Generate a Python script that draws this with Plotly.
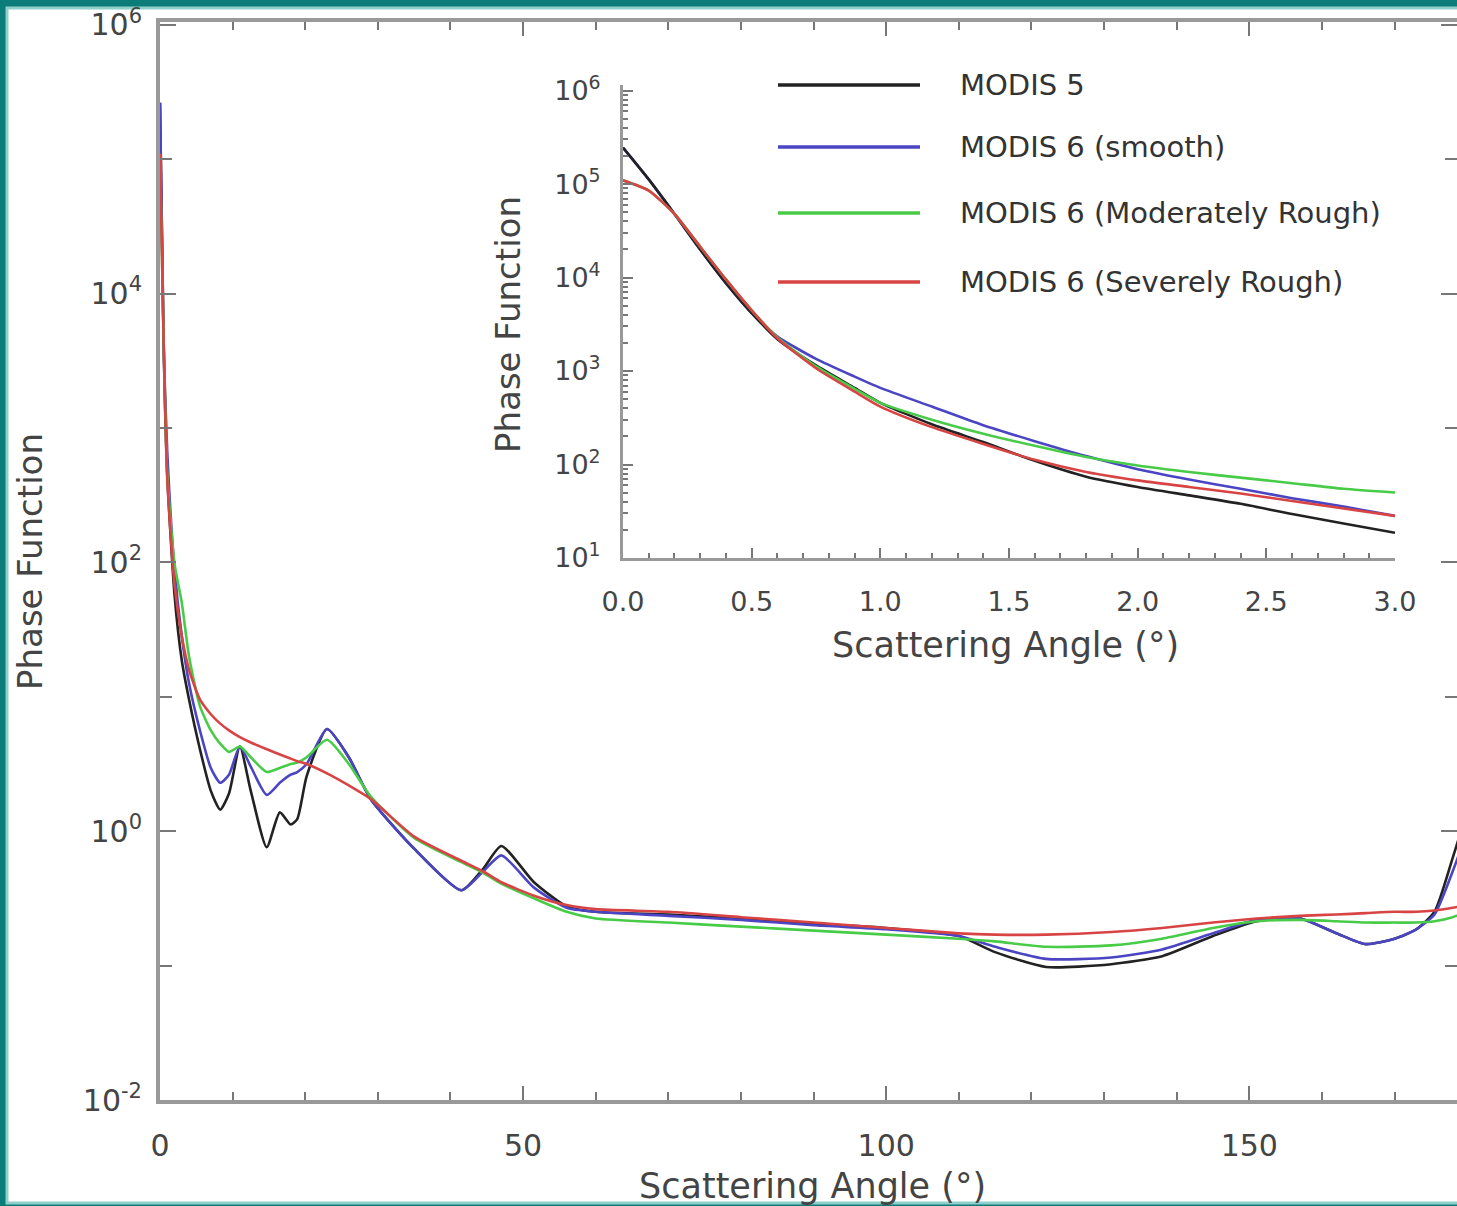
import plotly.graph_objects as go

# ---------------- data (log10 of phase function) ----------------
main_angle = [0, 0.5, 1, 2, 3, 4, 5.5, 7, 8.3, 9.5, 11, 12.5, 14.7, 16.5, 18, 18.9, 20.2, 23, 26, 29,
              35, 41.5, 44.5, 47, 51.5, 56, 60, 70, 80, 90, 100, 110, 115, 122, 131, 138, 145, 151,
              157, 162, 166, 170, 173, 175.5, 178, 180]
main_modis5 = [5.42, 3.62, 2.65, 1.76, 1.27, 0.98, 0.61, 0.30, 0.16, 0.28, 0.63, 0.30, -0.12, 0.14, 0.05, 0.09,
               0.41, 0.76, 0.55, 0.24, -0.13, -0.44, -0.28, -0.11, -0.38, -0.56, -0.60, -0.62, -0.65, -0.69,
               -0.72, -0.78, -0.90, -1.01, -0.99, -0.93, -0.78, -0.67, -0.65, -0.76, -0.84, -0.80, -0.73,
               -0.60, -0.20, 0.15]
main_smooth = [5.42, 3.62, 2.82, 1.95, 1.45, 1.10, 0.75, 0.47, 0.36, 0.42, 0.63, 0.48, 0.27, 0.36, 0.42, 0.44,
               0.50, 0.76, 0.55, 0.24, -0.13, -0.44, -0.30, -0.18, -0.42, -0.57, -0.60, -0.63, -0.66, -0.70,
               -0.73, -0.78, -0.86, -0.95, -0.94, -0.88, -0.76, -0.66, -0.65, -0.76, -0.84, -0.80, -0.73,
               -0.62, -0.30, 0.00]
main_moderate = [5.04, 3.65, 2.66, 1.99, 1.70, 1.30, 0.93, 0.75, 0.65, 0.59, 0.63, 0.55, 0.44, 0.47, 0.50, 0.51,
                 0.55, 0.68, 0.50, 0.26, -0.05, -0.23, -0.31, -0.39, -0.50, -0.60, -0.65, -0.68, -0.71, -0.74,
                 -0.77, -0.80, -0.82, -0.86, -0.85, -0.80, -0.72, -0.67, -0.66, -0.67, -0.68, -0.68, -0.68,
                 -0.67, -0.64, -0.60]
main_severe = [5.04, 3.65, 2.62, 1.83, 1.45, 1.20, 0.98, 0.87, 0.80, 0.75, 0.70, 0.66, 0.61, 0.57, 0.54, 0.52,
               0.50, 0.43, 0.34, 0.24, -0.04, -0.22, -0.30, -0.38, -0.48, -0.55, -0.58, -0.60, -0.64, -0.68,
               -0.72, -0.76, -0.77, -0.77, -0.75, -0.72, -0.68, -0.65, -0.63, -0.62, -0.61, -0.60, -0.60,
               -0.59, -0.57, -0.55]

inset_angle = [0, 0.1, 0.2, 0.3, 0.4, 0.5, 0.6, 0.75, 0.9, 1.0, 1.2, 1.4, 1.6, 1.8, 2.0, 2.2, 2.4, 2.6, 2.8, 3.0]
inset_modis5 = [5.39, 5.05, 4.68, 4.30, 3.94, 3.62, 3.34, 3.06, 2.82, 2.66, 2.43, 2.24, 2.04, 1.87, 1.76, 1.67,
                1.58, 1.47, 1.37, 1.27]
inset_smooth = [5.39, 5.05, 4.68, 4.30, 3.94, 3.62, 3.37, 3.13, 2.94, 2.82, 2.62, 2.42, 2.25, 2.09, 1.95, 1.84,
                1.74, 1.64, 1.55, 1.45]
inset_moderate = [5.04, 4.93, 4.68, 4.33, 3.98, 3.65, 3.36, 3.05, 2.81, 2.66, 2.48, 2.33, 2.20, 2.08, 1.99, 1.92,
                  1.86, 1.80, 1.74, 1.70]
inset_severe = [5.04, 4.93, 4.68, 4.33, 3.98, 3.65, 3.35, 3.03, 2.78, 2.62, 2.40, 2.22, 2.05, 1.92, 1.83, 1.76,
                1.69, 1.61, 1.53, 1.45]

series_names = ["MODIS 5", "MODIS 6 (smooth)", "MODIS 6 (Moderately Rough)", "MODIS 6 (Severely Rough)"]
series_colors = ["#222222", "#4b45c4", "#48cc48", "#d84444"]

main_ticks_x = [0, 50, 100, 150]
main_ticks_y = [1e-2, 1, 1e2, 1e4, 1e6]
main_ticktext_y = ["10<sup>-2</sup>", "10<sup>0</sup>", "10<sup>2</sup>", "10<sup>4</sup>", "10<sup>6</sup>"]
inset_ticks_x = [0, 0.5, 1.0, 1.5, 2.0, 2.5, 3.0]
inset_ticktext_x = ["0.0", "0.5", "1.0", "1.5", "2.0", "2.5", "3.0"]
inset_ticks_y = [1e1, 1e2, 1e3, 1e4, 1e5, 1e6]
inset_ticktext_y = ["10<sup>1</sup>", "10<sup>2</sup>", "10<sup>3</sup>", "10<sup>4</sup>", "10<sup>5</sup>", "10<sup>6</sup>"]

# ---------------- layout geometry ----------------
W, H = 1457, 1206
L, R, T, B = 160, 0, 22, 106
PW, PH = W - L - R, H - T - B


def px(xp):
    return (xp - L) / PW


def py(yp):
    return (H - B - yp) / PH


FONT = "DejaVu Sans"
TXT = "#444444"
AX = "#999999"

fig = go.Figure()

main_sets = [main_modis5, main_smooth, main_moderate, main_severe]
inset_sets = [inset_modis5, inset_smooth, inset_moderate, inset_severe]
for name, col, m in zip(series_names, series_colors, main_sets):
    fig.add_trace(go.Scatter(x=main_angle, y=[10 ** v for v in m], mode="lines", name=name,
                             line=dict(color=col, width=2.6, shape="spline", smoothing=0.6),
                             xaxis="x", yaxis="y", showlegend=False))
# inset drawing order: smooth, MODIS 5, moderate, severe
for k in [1, 0, 2, 3]:
    fig.add_trace(go.Scatter(x=inset_angle, y=[10 ** v for v in inset_sets[k]], mode="lines",
                             name=series_names[k],
                             line=dict(color=series_colors[k], width=2.6, shape="spline", smoothing=0.6),
                             xaxis="x2", yaxis="y2", showlegend=False))

main_minor_x = [v for v in range(10, 180, 10) if v % 50 != 0]
inset_minor_x = [round(v * 0.1, 1) for v in range(0, 31) if v % 5 != 0]
inset_minor_y = [m * 10 ** e for e in range(1, 6) for m in range(2, 10)]

fig.update_layout(
    width=W, height=H,
    margin=dict(l=L, r=R, t=T, b=B, pad=0, autoexpand=False),
    paper_bgcolor="#0b7c78",
    plot_bgcolor="white",
    font=dict(family=FONT, color=TXT),
    showlegend=False,
    xaxis=dict(domain=[0, 1], range=[0, 178.6], tickvals=main_ticks_x, ticks="inside", ticklen=14,
               tickwidth=2, tickcolor="#777", showline=True, linecolor=AX, linewidth=4, mirror="ticks",
               showgrid=False, zeroline=False, automargin=False, tickfont=dict(size=30, color=TXT),
               ticklabelstandoff=16,
               minor=dict(tickvals=main_minor_x, ticks="inside", ticklen=8, tickwidth=2, tickcolor="#777",
                          showgrid=False)),
    yaxis=dict(domain=[0, 1], type="log", range=[-2, 6.02], tickvals=main_ticks_y, ticktext=main_ticktext_y,
               ticks="inside", ticklen=16, tickwidth=2, tickcolor="#777", showline=True, linecolor=AX,
               linewidth=4, mirror="ticks", showgrid=False, zeroline=False, automargin=False,
               tickfont=dict(size=30, color=TXT), ticklabelstandoff=8,
               minor=dict(tickvals=[1e-1, 1e1, 1e3, 1e5], ticks="inside", ticklen=12, tickwidth=2,
                          tickcolor="#777", showgrid=False)),
    xaxis2=dict(domain=[px(623), px(1395)], anchor="y2", range=[0, 3.0], tickvals=inset_ticks_x,
                ticktext=inset_ticktext_x, ticks="inside", ticklen=10, tickwidth=2, tickcolor="#777",
                showline=True, linecolor=AX, linewidth=3, showgrid=False, zeroline=False, automargin=False,
                tickfont=dict(size=27, color=TXT), ticklabelstandoff=18,
                minor=dict(tickvals=inset_minor_x, ticks="inside", ticklen=5, tickwidth=2, tickcolor="#777",
                           showgrid=False)),
    yaxis2=dict(domain=[py(558), py(85)], anchor="x2", type="log", range=[1, 6.06], tickvals=inset_ticks_y,
                ticktext=inset_ticktext_y, ticks="inside", ticklen=10, tickwidth=2, tickcolor="#777",
                showline=True, linecolor=AX, linewidth=3, showgrid=False, zeroline=False, automargin=False,
                tickfont=dict(size=27, color=TXT), ticklabelstandoff=14,
                minor=dict(tickvals=inset_minor_y, ticks="inside", ticklen=5, tickwidth=1.5,
                           tickcolor="#777", showgrid=False)),
)

# white page inside teal frame
fig.add_shape(type="rect", xref="paper", yref="paper", x0=px(7), x1=px(1475), y0=py(1203), y1=py(8),
              fillcolor="white", line=dict(color="#8fd0cc", width=3), layer="below")

# axis titles
ann = []
ann.append(dict(text="Phase Function", x=px(30), y=py(562), textangle=-90, font=dict(size=34)))
ann.append(dict(text="Scattering Angle (°)", x=px(812), y=py(1186), font=dict(size=35)))
ann.append(dict(text="Phase Function", x=px(508), y=py(325), textangle=-90, font=dict(size=34)))
ann.append(dict(text="Scattering Angle (°)", x=px(1005), y=py(645), font=dict(size=35)))
for a in ann:
    a.update(xref="paper", yref="paper", showarrow=False, xanchor="center", yanchor="middle")
    a["font"].update(family=FONT, color=TXT)
    fig.add_annotation(**a)

# legend drawn inside the inset
leg_y = [85, 147, 213, 282]
for name, col, yy in zip(series_names, series_colors, leg_y):
    fig.add_shape(type="line", xref="paper", yref="paper", x0=px(778), x1=px(920), y0=py(yy), y1=py(yy),
                  line=dict(color=col, width=3.5))
    fig.add_annotation(text=name, xref="paper", yref="paper", x=px(958), y=py(yy), xanchor="left",
                       yanchor="middle", showarrow=False, font=dict(family=FONT, size=29, color="#333333"))

fig.write_html("out.html")
